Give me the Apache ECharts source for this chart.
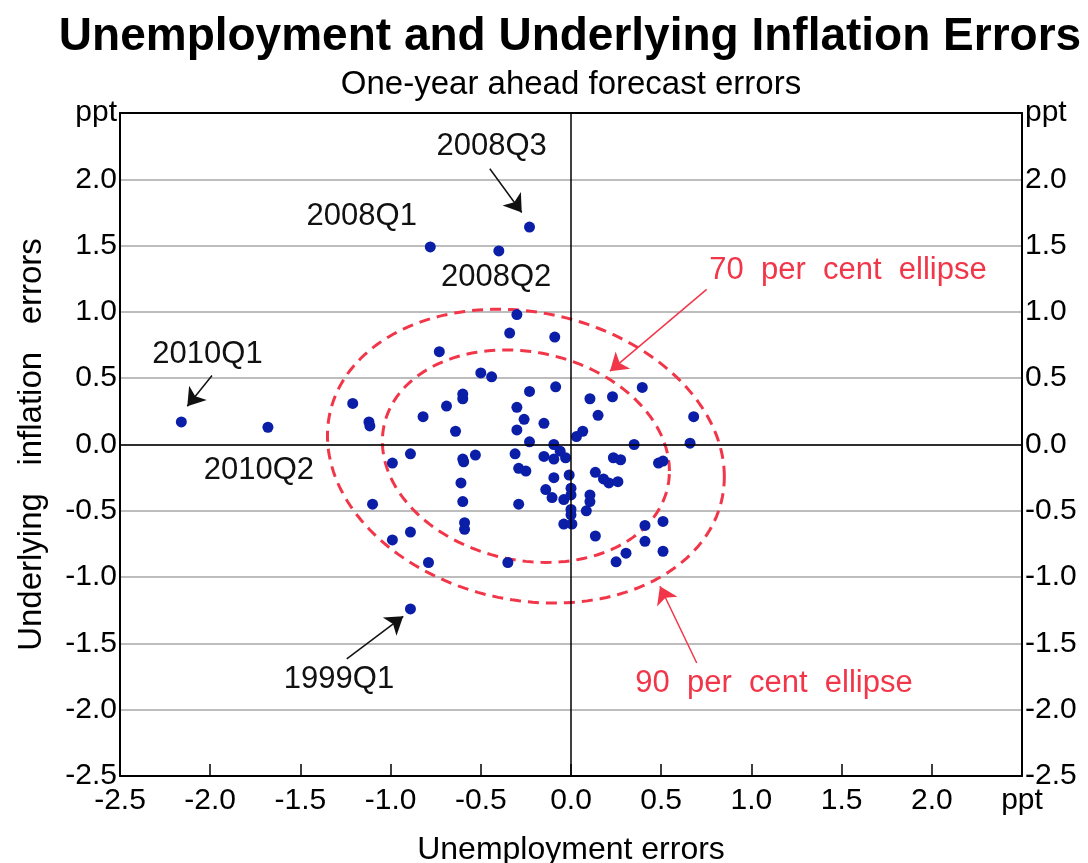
<!DOCTYPE html>
<html>
<head>
<meta charset="utf-8">
<script src="https://cdn.jsdelivr.net/npm/echarts@6/dist/echarts.min.js"></script>
<style>
  html, body { margin: 0; background: #fff; }
  #chart { width: 1088px; height: 863px; }
</style>
</head>
<body>
<div id="chart"></div>
<script>
// one-year ahead forecast errors (ppt)
const unempErrors = [
  -2.16, -1.68, -0.78, -0.40, -0.23, -0.89,
  -0.30, -0.34, -0.09, -0.73, -0.50, -0.44, -0.23, -0.085,
  -1.21, -1.12, -1.115, -0.69, -0.60, -0.60, -0.82, -0.64,
  -0.30, -0.26, -0.30, -0.15, -0.23, 0.03, 0.065,
  -0.89, -0.99, -0.53, -0.60, -0.595, -0.31, -0.29, -0.25,
  -0.15, -0.095, -0.095, -0.06, -0.03, -0.095, -0.01,
  -0.61, -0.60, -0.29, -0.14, -0.105, -0.04, 0.0, 0.0, 0.0, 0.0,
  -1.10, -0.59, -0.59, -0.04, 0.005, -0.89, -0.99, -0.79, -0.35,
  0.395, 0.105, 0.23, 0.15, 0.68, 0.35, 0.66, 0.235, 0.275,
  0.485, 0.51, 0.135, 0.18, 0.21, 0.26, 0.105, 0.105, 0.085,
  0.135, 0.41, 0.51, 0.41, 0.305, 0.25, 0.51
];
const inflErrors = [
  0.17, 0.13, 1.49, 1.46, 1.64, -1.24,
  0.98, 0.84, 0.81, 0.70, 0.54, 0.51, 0.40, 0.435,
  0.31, 0.17, 0.14, 0.29, 0.38, 0.345, 0.21, 0.10,
  0.28, 0.19, 0.11, 0.16, 0.02, 0.06, 0.10,
  -0.07, -0.14, -0.08, -0.11, -0.13, -0.07, -0.18, -0.20,
  -0.09, 0.0, -0.11, -0.05, -0.10, -0.25, -0.23,
  -0.29, -0.43, -0.45, -0.34, -0.40, -0.415, -0.33, -0.38, -0.49, -0.53,
  -0.45, -0.59, -0.64, -0.60, -0.60, -0.66, -0.72, -0.89, -0.89,
  0.43, 0.345, 0.36, 0.22, 0.21, 0.0, 0.01, -0.10, -0.115,
  -0.14, -0.125, -0.21, -0.26, -0.29, -0.28, -0.38, -0.43, -0.50,
  -0.69, -0.61, -0.58, -0.73, -0.82, -0.885, -0.805
];

// ellipse definition: centre, standard deviations, correlation, chi-square radii
const ellipseCentre = [-0.25, -0.088];
const ellipseSd = [0.5126, 0.5163];
const ellipseRho = -0.14;
const ellipseRadius70 = 1.552;
const ellipseRadius90 = 2.146;

// annotations
const quarterText = ['2008Q3', '2008Q1', '2008Q2', '2010Q1', '2010Q2', '1999Q1'];
const quarterX = [-0.44, -1.16, -0.415, -2.015, -1.73, -1.286];
const quarterY = [2.25, 1.72, 1.26, 0.68, -0.195, -1.77];
const ellipseText = ['70  per  cent  ellipse', '90  per  cent  ellipse'];
const ellipseTextX = [1.535, 1.125];
const ellipseTextY = [1.31, -1.80];
const blackArrowFrom = [[-0.45, 2.08], [-1.99, 0.52], [-1.243, -1.617]];
const blackArrowTo = [[-0.273, 1.75], [-2.127, 0.289], [-0.93, -1.296]];
const redArrowFrom = [[0.752, 1.17], [0.697, -1.648]];
const redArrowTo = [[0.216, 0.553], [0.493, -1.069]];

const RED = '#f2364a';
const BLUE = '#0a1ea8';
const INK = '#111';
const FONT = '"Liberation Sans", Arial, sans-serif';

function ellipsePoints(r) {
  const pts = [];
  const sx = r * ellipseSd[0], sy = r * ellipseSd[1];
  const k = Math.sqrt(1 - ellipseRho * ellipseRho);
  for (let i = 0; i <= 180; i++) {
    const t = (i / 180) * Math.PI * 2;
    pts.push([
      ellipseCentre[0] + sx * Math.cos(t),
      ellipseCentre[1] + sy * (ellipseRho * Math.cos(t) + k * Math.sin(t))
    ]);
  }
  return pts;
}

// text-only scatter series plus arrows drawn as markLines
function noteSeries(texts, xs, ys, from, to, color) {
  return {
    type: 'scatter', z: 5, silent: true,
    symbolSize: 2, itemStyle: { color: color, opacity: 0 },
    label: {
      show: true, position: [1, 1], align: 'center', verticalAlign: 'middle',
      formatter: '{b}', fontSize: 31, fontFamily: FONT, color: color,
      textBorderWidth: 0, opacity: 1
    },
    labelLayout: { hideOverlap: false },
    data: texts.map((t, i) => ({ name: t, value: [xs[i], ys[i]] })),
    markLine: {
      silent: true, symbol: ['none', 'arrow'], symbolSize: 17,
      label: { show: false },
      itemStyle: { color: color },
      lineStyle: { color: color, width: 1.5, type: 'solid', opacity: 1 },
      data: from.map((a, i) => [{ coord: a }, { coord: to[i] }])
    }
  };
}

const fmt = v => (Math.abs(v - 2.5) < 1e-9 ? 'ppt' : v.toFixed(1));
const axisLabel = { fontSize: 30, color: '#000', fontFamily: FONT };
const border = { show: true, onZero: false, lineStyle: { color: '#000', width: 2 } };

const chart = echarts.init(document.getElementById('chart'));
chart.setOption({
  animation: false,
  graphic: [
    { type: 'text', x: 570, y: 14, style: { text: 'Unemployment and Underlying Inflation Errors', fontSize: 46, fontWeight: 'bold', fontFamily: FONT, fill: '#000', align: 'center', verticalAlign: 'top' } },
    { type: 'text', x: 571, y: 68, style: { text: 'One-year ahead forecast errors', fontSize: 33, fontFamily: FONT, fill: '#000', align: 'center', verticalAlign: 'top' } }
  ],
  grid: { left: 120, right: 66, top: 113, bottom: 87, containLabel: false, outerBoundsMode: 'none' },
  xAxis: [
    {
      type: 'value', min: -2.5, max: 2.5, interval: 0.5, position: 'bottom',
      name: 'Unemployment errors', nameLocation: 'middle', nameGap: 58,
      nameTextStyle: { fontSize: 32, color: '#000', fontFamily: FONT },
      axisLine: border,
      axisTick: { show: true, inside: true, length: 12, lineStyle: { color: '#000', width: 1.5 } },
      axisLabel: Object.assign({ margin: 10, showMinLabel: true, showMaxLabel: true, formatter: fmt }, axisLabel),
      splitLine: { show: false }
    },
    {
      type: 'value', min: -2.5, max: 2.5, position: 'top',
      axisLine: border, axisTick: { show: false }, axisLabel: { show: false }, splitLine: { show: false }
    }
  ],
  yAxis: [
    {
      type: 'value', min: -2.5, max: 2.5, interval: 0.5, position: 'left',
      name: 'Underlying   inflation   errors', nameLocation: 'middle', nameGap: 72, nameRotate: 90,
      nameTextStyle: { fontSize: 33, color: '#000', fontFamily: FONT },
      axisLine: border, axisTick: { show: false },
      axisLabel: Object.assign({ margin: 3, showMinLabel: true, showMaxLabel: true, formatter: fmt }, axisLabel),
      splitLine: { show: true, lineStyle: { color: '#bdbdbd', width: 2 } }
    },
    {
      type: 'value', min: -2.5, max: 2.5, interval: 0.5, position: 'right',
      axisLine: border, axisTick: { show: false },
      axisLabel: Object.assign({ margin: 3, showMinLabel: true, showMaxLabel: true, formatter: fmt }, axisLabel),
      splitLine: { show: false }
    }
  ],
  series: [
    {
      type: 'line', name: '90 per cent', data: ellipsePoints(ellipseRadius90),
      showSymbol: false, symbol: 'none', silent: true, z: 2,
      lineStyle: { color: RED, width: 3, type: [11, 7] },
      markLine: {
        silent: true, symbol: 'none', label: { show: false },
        lineStyle: { color: '#000', width: 1.5, type: 'solid' },
        data: [{ xAxis: 0 }, { yAxis: 0 }]
      }
    },
    {
      type: 'line', name: '70 per cent', data: ellipsePoints(ellipseRadius70),
      showSymbol: false, symbol: 'none', silent: true, z: 2,
      lineStyle: { color: RED, width: 3, type: [11, 7] }
    },
    {
      type: 'scatter', name: 'errors', z: 4,
      data: unempErrors.map((x, i) => [x, inflErrors[i]]),
      symbolSize: 11, itemStyle: { color: BLUE, opacity: 1 }
    },
    noteSeries(quarterText, quarterX, quarterY, blackArrowFrom, blackArrowTo, INK),
    noteSeries(ellipseText, ellipseTextX, ellipseTextY, redArrowFrom, redArrowTo, RED)
  ]
});
</script>
</body>
</html>
